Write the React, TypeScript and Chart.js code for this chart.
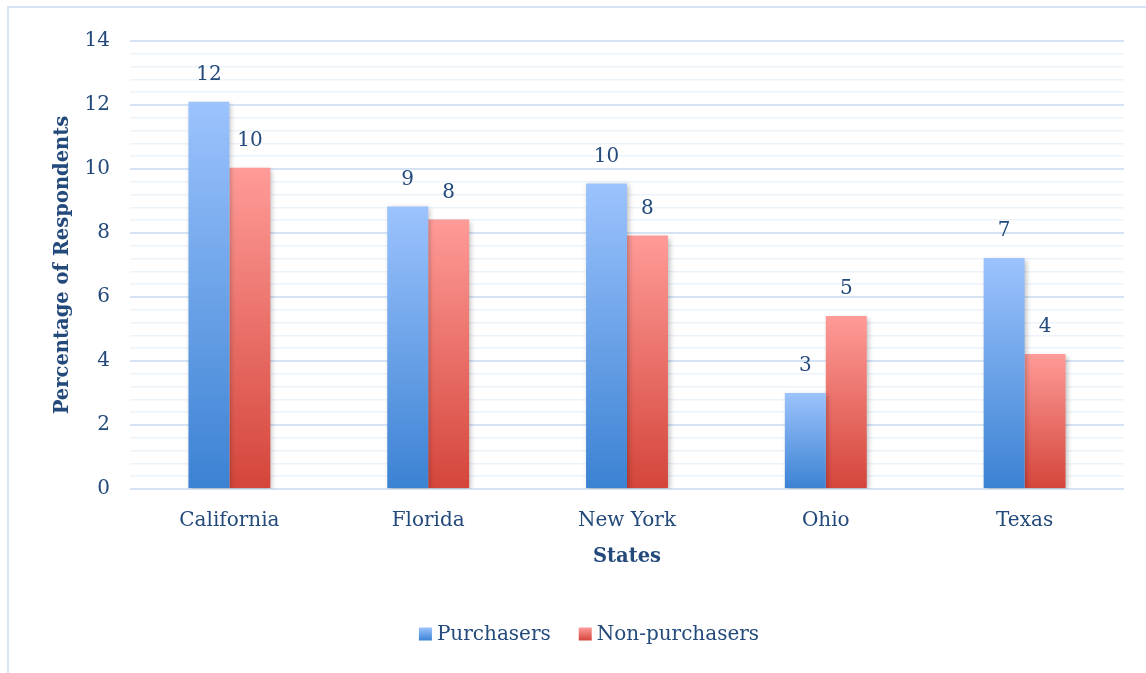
import React, { useEffect, useRef } from "react";
import { Chart, registerables } from "chart.js";

Chart.register(...registerables);

const categories = ["California", "Florida", "New York", "Ohio", "Texas"];
const purchasers = [12.1, 8.83, 9.55, 3.0, 7.22];
const nonPurchasers = [10.04, 8.42, 7.92, 5.41, 4.22];
const seriesNames = ["Purchasers", "Non-purchasers"];
const yTickLabels = ["0", "2", "4", "6", "8", "10", "12", "14"];

const FONT = "'DejaVu Serif', serif";
const TEXT = "#234a7b";
const BLUE_TOP = "#9cc3fd";
const BLUE_BOT = "#3b82d3";
const RED_TOP = "#ff9b98";
const RED_BOT = "#d4453a";

function barGradient(ctx: any, top: string, bot: string) {
  const chart = ctx.chart;
  if (!chart.chartArea || ctx.dataIndex === undefined) return top;
  const y = chart.scales.y;
  const v = ctx.raw as number;
  const y0 = y.getPixelForValue(v);
  const y1 = y.getPixelForValue(0);
  const g = chart.ctx.createLinearGradient(0, y0, 0, y1);
  g.addColorStop(0, top);
  g.addColorStop(1, bot);
  return g;
}

const isMajor = (v: number) => Math.abs(v / 2 - Math.round(v / 2)) < 1e-6;

export default function App() {
  const ref = useRef<HTMLCanvasElement>(null);
  useEffect(() => {
    document.body.style.margin = "0";
    document.body.style.overflow = "hidden";
    const canvas = ref.current!;
    const shadowPlugin = {
      id: "barShadow",
      beforeDatasetsDraw(chart: any) {
        const c = chart.ctx;
        c.save();
        c.shadowColor = "rgba(0,0,0,0.25)";
        c.shadowBlur = 5;
        c.shadowOffsetX = 2;
        c.shadowOffsetY = 2;
      },
      afterDatasetsDraw(chart: any) {
        chart.ctx.restore();
      },
    };
    const labelPlugin = {
      id: "valueLabels",
      afterDatasetsDraw(chart: any) {
        const c = chart.ctx;
        c.save();
        c.font = `20px ${FONT}`;
        c.fillStyle = TEXT;
        c.textAlign = "center";
        c.textBaseline = "middle";
        chart.data.datasets.forEach((ds: any, i: number) => {
          const meta = chart.getDatasetMeta(i);
          meta.data.forEach((el: any, j: number) => {
            c.fillText(String(Math.round(ds.data[j])), el.x, el.y - 27);
          });
        });
        c.restore();
      },
    };
    const legendPlugin = {
      id: "customLegend",
      afterDraw(chart: any) {
        const c = chart.ctx;
        c.save();
        c.font = `20px ${FONT}`;
        const box = 13;
        const gap = 5;
        const spacing = 28;
        const cols = [
          [BLUE_TOP, BLUE_BOT],
          [RED_TOP, RED_BOT],
        ];
        const widths = seriesNames.map((n) => box + gap + c.measureText(n).width);
        const total = widths.reduce((a, b) => a + b, 0) + spacing * (widths.length - 1);
        let x = 580 - total / 2;
        const cy = 626;
        seriesNames.forEach((n, i) => {
          const g = c.createLinearGradient(0, cy - box / 2, 0, cy + box / 2);
          g.addColorStop(0, cols[i][0]);
          g.addColorStop(1, cols[i][1]);
          c.fillStyle = g;
          c.fillRect(x, cy - box / 2, box, box);
          c.fillStyle = TEXT;
          c.textBaseline = "middle";
          c.textAlign = "left";
          c.fillText(n, x + box + gap, cy + 1);
          x += widths[i] + spacing;
        });
        c.restore();
      },
    };
    const chart = new Chart(canvas, {
      type: "bar",
      data: {
        labels: categories,
        datasets: [
          {
            label: seriesNames[0],
            data: purchasers,
            backgroundColor: (ctx: any) => barGradient(ctx, BLUE_TOP, BLUE_BOT),
            categoryPercentage: 0.412,
            barPercentage: 1,
          },
          {
            label: seriesNames[1],
            data: nonPurchasers,
            backgroundColor: (ctx: any) => barGradient(ctx, RED_TOP, RED_BOT),
            categoryPercentage: 0.412,
            barPercentage: 1,
          },
        ],
      },
      options: {
        animation: false,
        responsive: false,
        maintainAspectRatio: false,
        layout: { padding: { top: 33, right: 45, left: 0, bottom: 0 } },
        plugins: {
          legend: { display: false },
          tooltip: { enabled: false },
        },
        scales: {
          x: {
            grid: { display: false },
            border: { display: false },
            ticks: {
              color: TEXT,
              font: { family: FONT, size: 20 },
              padding: 12,
            },
            title: {
              display: true,
              text: "States",
              color: TEXT,
              font: { family: FONT, size: 19.5, weight: "bold" },
              padding: { top: 0, bottom: 104 },
            },
            afterFit: (s: any) => {
              s.height = 184;
            },
          },
          y: {
            min: 0,
            max: 14,
            border: { display: false },
            grid: {
              drawTicks: false,
              color: (ctx: any) => (isMajor(ctx.tick.value) ? "#d5e3f5" : "#edf3fa"),
              lineWidth: (ctx: any) => (isMajor(ctx.tick.value) ? 2 : 1.6),
            },
            ticks: {
              stepSize: 0.4,
              autoSkip: false,
              color: TEXT,
              font: { family: FONT, size: 20 },
              padding: 20,
              callback: (v: any) => {
                const n = Number(v);
                return isMajor(n) ? yTickLabels[Math.round(n / 2)] : "";
              },
            },
            title: {
              display: true,
              text: "Percentage of Respondents",
              color: TEXT,
              font: { family: FONT, size: 19.5, weight: "bold" },
              padding: { top: 42, bottom: 0 },
            },
            afterFit: (s: any) => {
              s.width = 121;
            },
          },
        },
      },
      plugins: [shadowPlugin, labelPlugin, legendPlugin],
    } as any);
    return () => chart.destroy();
  }, []);
  return (
    <div
      style={{
        position: "fixed",
        left: 7,
        top: 6,
        borderLeft: "2px solid #d6e4f5",
        borderTop: "2px solid #d6e4f5",
        width: 1160,
        height: 665,
        background: "#fff",
      }}
    >
      <canvas ref={ref} width={1160} height={665} style={{ display: "block" }} />
    </div>
  );
}
